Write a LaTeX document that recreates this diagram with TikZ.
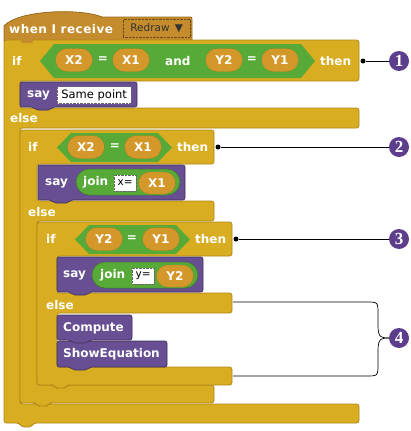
\documentclass[tikz,border=0pt]{standalone}
\usepackage{fontspec}
\setmainfont{DejaVu Sans}
\newfontfamily\callfont{Liberation Serif}
\usetikzlibrary{shapes.misc}

\definecolor{ctrl}{RGB}{216,173,33}
\definecolor{ctrledge}{RGB}{176,134,26}
\definecolor{hatcol}{RGB}{196,140,44}
\definecolor{hatedge}{RGB}{150,104,30}
\definecolor{opgreen}{RGB}{88,170,56}
\definecolor{varcol}{RGB}{212,152,42}
\definecolor{looks}{RGB}{104,78,146}
\definecolor{callcol}{RGB}{92,62,140}

\def\hexpred(#1:#2:#3:#4){\fill[opgreen] (#1,{(#2+#4)/2}) -- ({#1+14},#2) -- ({#3-14},#2) -- (#3,{(#2+#4)/2}) -- ({#3-14},#4) -- ({#1+14},#4) -- cycle;}
\def\looksblk(#1:#2:#3:#4){\draw[looksblock] (#1,#2) -- (#3,#2) -- (#3,#4) -- ({#1+33},#4) -- ({#1+30},{#4+3}) -- ({#1+16},{#4+3}) -- ({#1+13},#4) -- (#1,#4) -- cycle;}

\tikzset{
  ctrlblock/.style={fill=ctrl, draw=ctrledge, line width=0.8pt, rounded corners=2.5pt},
  looksblock/.style={fill=looks, draw=looks!60!black, line width=0.6pt, rounded corners=2pt},
  kw/.style={text=white, font=\fontsize{12}{12}\selectfont\bfseries, inner sep=0pt, anchor=west},
  varpill/.style={rounded rectangle, fill=varcol, draw=varcol!65!black, densely dotted, minimum height=23, minimum width=37, inner sep=0pt, text=white, font=\fontsize{12}{12}\selectfont\bfseries},
  joinpill/.style={rounded rectangle, fill=opgreen, draw=opgreen!70!black, line width=0.5pt, minimum height=26, inner sep=0pt},
  slot/.style={fill=white, draw=black!60, densely dotted, inner sep=1pt, text=black, font=\fontsize{11.5}{11.5}\selectfont, anchor=west},
  dropbox/.style={draw=hatedge!70!black, densely dotted, minimum height=18, minimum width=67, inner sep=0pt, anchor=west, text=black!80, font=\fontsize{10.5}{10.5}\selectfont},
  callout/.style={circle, fill=callcol, text=white, minimum size=20, inner sep=0pt, font=\callfont\fontsize{17}{17}\selectfont\bfseries},
  dot/.style={circle, fill=black, minimum size=5, inner sep=0pt},
  lead/.style={line width=0.7pt, black},
}

\begin{document}
\begin{tikzpicture}[x=1pt, y=-1pt]
%%%%% START %%%%%
\useasboundingbox (0,0) rectangle (410,431);

% hat
\draw[fill=hatcol, draw=hatedge, line width=0.8pt] (4,41) -- (4,26) .. controls (18,10) and (80,8) .. (102,17) -- (188,17) .. controls (192,17) .. (192,21) -- (192,41) -- cycle;
\node[kw, font=\fontsize{12}{12}\selectfont\bfseries\addfontfeatures{LetterSpace=4}] (recv) at (9,29) {when I receive};
\node[dropbox] (msg) at (123,28) {Redraw\enspace▼};

% outer if
\draw[ctrlblock] (4,40) -- (359,40) -- (359,81) -- (20,81) -- (20,108) -- (359,108) -- (359,128) -- (20,128) -- (20,404) -- (359,404) -- (359,423) -- (34,423) -- (31,427) -- (22,427) -- (19,423) -- (4,423) -- cycle;
\fill[hatcol] (21,39) rectangle (33,43);
\node[kw] (if1) at (12,61) {if};
\hexpred(40:44:315:78)
\node[varpill] (x2a) at (74,60) {X2};
\node[kw, anchor=center] (eq1) at (103,60) {=};
\node[varpill] (x1a) at (131,60) {X1};
\node[kw] (and1) at (165,61) {and};
\node[varpill] (y2a) at (224,60) {Y2};
\node[kw, anchor=center] (eq2) at (252,60) {=};
\node[varpill] (y1a) at (280,60) {Y1};
\node[kw] (then1) at (320,61) {then};
\looksblk(20:82:137:107)
\node[kw] (say1) at (27,95) {say};
\node[slot, minimum width=74, minimum height=17] (same) at (57,95) {Same point};
\node[kw] (else1) at (10,118) {else};

% middle if
\draw[ctrlblock] (20,130) -- (214,130) -- (214,164) -- (37,164) -- (37,201) -- (214,201) -- (214,221) -- (37,221) -- (37,385) -- (214,385) -- (214,403) -- (50,403) -- (47,406) -- (38,406) -- (35,403) -- (20,403) -- cycle;
\node[kw] (if2) at (28,147) {if};
\hexpred(57:133:172:162)
\node[varpill] (x2b) at (86,147) {X2};
\node[kw, anchor=center] (eq3) at (115,147) {=};
\node[varpill] (x1b) at (143,147) {X1};
\node[kw] (then2) at (177,147) {then};
\looksblk(38:165:185:200)
\node[kw] (say2) at (45,183) {say};
\node[joinpill, minimum width=104] (join2) at (128,182) {};
\node[kw] (jw2) at (83,182) {join};
\node[slot, minimum width=22, minimum height=16, font=\fontsize{10.5}{10.5}\selectfont] (xeq) at (114,183) {x=};
\node[varpill, minimum height=22] (x1c) at (157,183) {X1};
\node[kw] (else2) at (28,212) {else};

% inner if
\draw[ctrlblock] (37,222) -- (232,222) -- (232,256) -- (57,256) -- (57,293) -- (232,293) -- (232,313) -- (57,313) -- (57,367) -- (232,367) -- (232,385) -- (68,385) -- (65,388) -- (56,388) -- (53,385) -- (37,385) -- cycle;
\node[kw] (if3) at (46,239) {if};
\hexpred(75:225:190:254)
\node[varpill] (y2b) at (104,239) {Y2};
\node[kw, anchor=center] (eq4) at (132,239) {=};
\node[varpill] (y1b) at (161,239) {Y1};
\node[kw] (then3) at (195,239) {then};
\looksblk(57:257:203:292)
\node[kw] (say3) at (63,275) {say};
\node[joinpill, minimum width=106] (join3) at (145,275) {};
\node[kw] (jw3) at (100,275) {join};
\node[slot, minimum width=22, minimum height=16, font=\fontsize{10.5}{10.5}\selectfont] (yeq) at (132,276) {y=};
\node[varpill, minimum height=22] (y2c) at (175,276) {Y2};
\node[kw] (else3) at (46,305) {else};
\looksblk(57:341:167:367)
\looksblk(57:315:132:340)
\node[kw] (comp) at (63,328) {Compute};
\node[kw] (showeq) at (63,354) {ShowEquation};

% callouts
\node[callout] (c1) at (399,61) {1};
\node[callout] (c2) at (399,147) {2};
\node[callout] (c3) at (399,239) {3};
\node[callout] (c4) at (399,338) {4};
\node[dot] (d1) at (363,61) {};
\node[dot] (d2) at (218,147) {};
\node[dot] (d3) at (236,239) {};
\draw[lead] (d1) -- (c1);
\draw[lead] (d2) -- (c2);
\draw[lead] (d3) -- (c3);
\coordinate (b4top) at (233,302);
\coordinate (b4bot) at (233,376);
\draw[lead] (b4top) -- (366,302) .. controls (378,302) .. (378,314) -- (378,326) .. controls (378,338) and (382,338) .. (c4.west);
\draw[lead] (b4bot) -- (366,376) .. controls (378,376) .. (378,364) -- (378,350) .. controls (378,338) and (382,338) .. (c4.west);
%%%%% END %%%%%
\end{tikzpicture}
\end{document}
